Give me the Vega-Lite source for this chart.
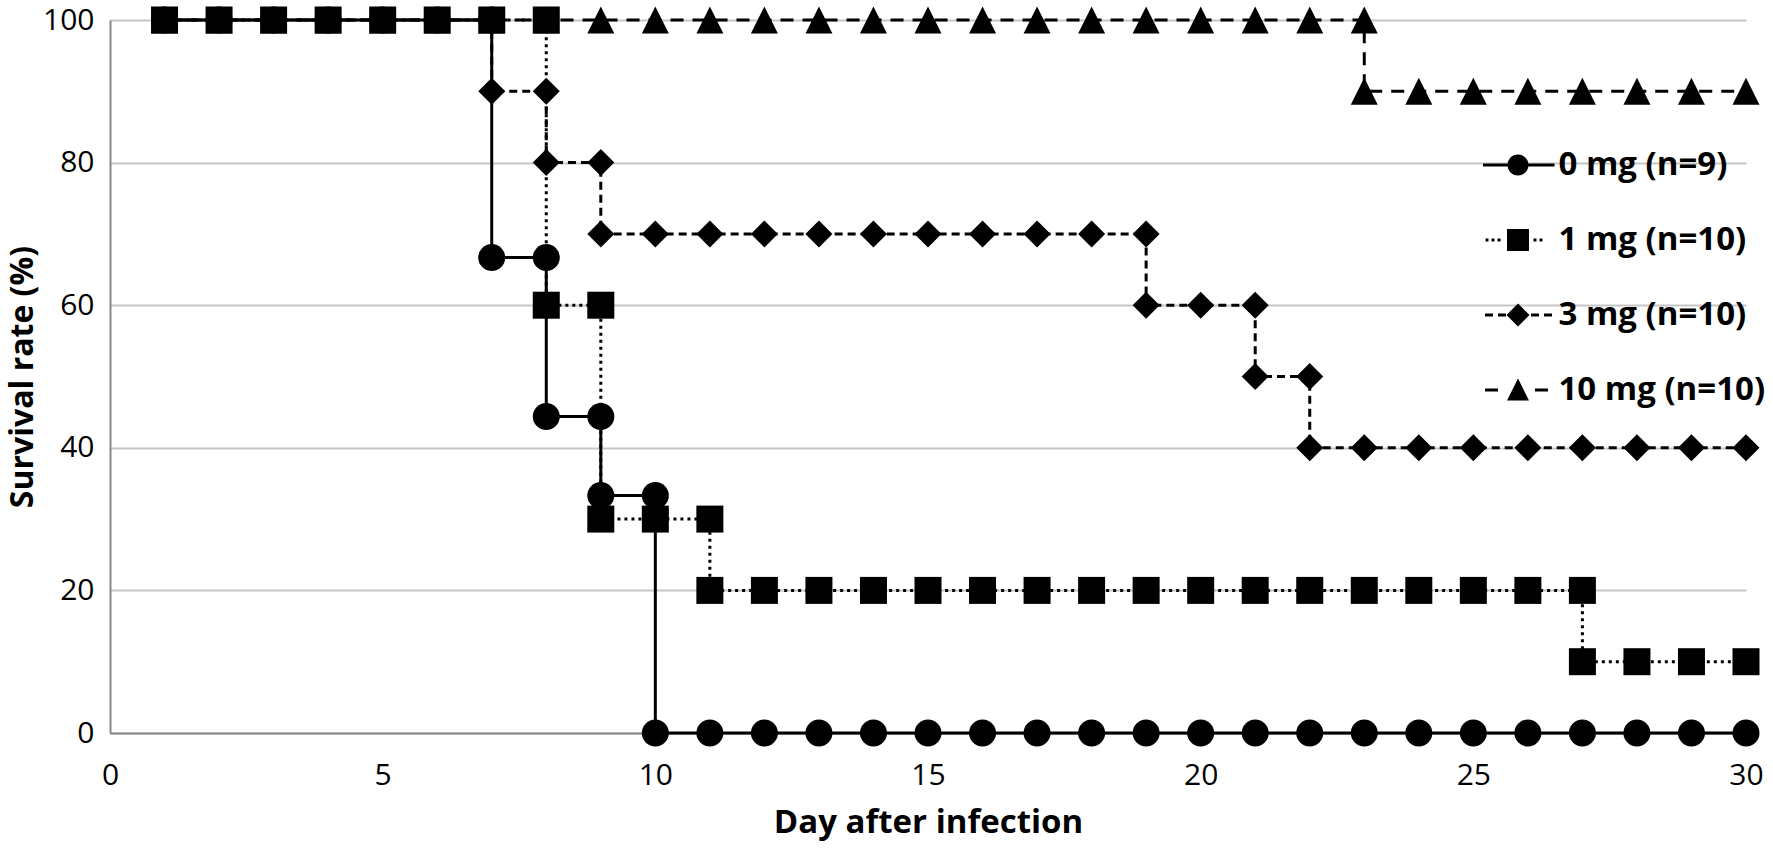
{
"$schema": "https://vega.github.io/schema/vega-lite/v6.json",
"width": 1636, "height": 713,
"autosize": {"type": "none"},
"padding": {"left": 110, "top": 20, "right": 27, "bottom": 120},
"background": "white",
"config": {"view": {"stroke": null}, "font": "Open Sans"},
"data": {"values": [
{"g":"10 mg (n=10)","d":1,"r":100,"o":1},{"g":"10 mg (n=10)","d":2,"r":100,"o":2},{"g":"10 mg (n=10)","d":3,"r":100,"o":3},{"g":"10 mg (n=10)","d":4,"r":100,"o":4},{"g":"10 mg (n=10)","d":5,"r":100,"o":5},{"g":"10 mg (n=10)","d":6,"r":100,"o":6},{"g":"10 mg (n=10)","d":7,"r":100,"o":7},{"g":"10 mg (n=10)","d":8,"r":100,"o":8},{"g":"10 mg (n=10)","d":9,"r":100,"o":9},{"g":"10 mg (n=10)","d":10,"r":100,"o":10},{"g":"10 mg (n=10)","d":11,"r":100,"o":11},{"g":"10 mg (n=10)","d":12,"r":100,"o":12},{"g":"10 mg (n=10)","d":13,"r":100,"o":13},{"g":"10 mg (n=10)","d":14,"r":100,"o":14},{"g":"10 mg (n=10)","d":15,"r":100,"o":15},{"g":"10 mg (n=10)","d":16,"r":100,"o":16},{"g":"10 mg (n=10)","d":17,"r":100,"o":17},{"g":"10 mg (n=10)","d":18,"r":100,"o":18},{"g":"10 mg (n=10)","d":19,"r":100,"o":19},{"g":"10 mg (n=10)","d":20,"r":100,"o":20},{"g":"10 mg (n=10)","d":21,"r":100,"o":21},{"g":"10 mg (n=10)","d":22,"r":100,"o":22},{"g":"10 mg (n=10)","d":23,"r":100,"o":23},{"g":"10 mg (n=10)","d":23,"r":90,"o":24},{"g":"10 mg (n=10)","d":24,"r":90,"o":25},{"g":"10 mg (n=10)","d":25,"r":90,"o":26},{"g":"10 mg (n=10)","d":26,"r":90,"o":27},{"g":"10 mg (n=10)","d":27,"r":90,"o":28},{"g":"10 mg (n=10)","d":28,"r":90,"o":29},{"g":"10 mg (n=10)","d":29,"r":90,"o":30},{"g":"10 mg (n=10)","d":30,"r":90,"o":31},
{"g":"0 mg (n=9)","d":1,"r":100,"o":1},{"g":"0 mg (n=9)","d":2,"r":100,"o":2},{"g":"0 mg (n=9)","d":3,"r":100,"o":3},{"g":"0 mg (n=9)","d":4,"r":100,"o":4},{"g":"0 mg (n=9)","d":5,"r":100,"o":5},{"g":"0 mg (n=9)","d":6,"r":100,"o":6},{"g":"0 mg (n=9)","d":7,"r":100,"o":7},{"g":"0 mg (n=9)","d":7,"r":66.7,"o":8},{"g":"0 mg (n=9)","d":8,"r":66.7,"o":9},{"g":"0 mg (n=9)","d":8,"r":44.4,"o":10},{"g":"0 mg (n=9)","d":9,"r":44.4,"o":11},{"g":"0 mg (n=9)","d":9,"r":33.3,"o":12},{"g":"0 mg (n=9)","d":10,"r":33.3,"o":13},{"g":"0 mg (n=9)","d":10,"r":0,"o":14},{"g":"0 mg (n=9)","d":11,"r":0,"o":15},{"g":"0 mg (n=9)","d":12,"r":0,"o":16},{"g":"0 mg (n=9)","d":13,"r":0,"o":17},{"g":"0 mg (n=9)","d":14,"r":0,"o":18},{"g":"0 mg (n=9)","d":15,"r":0,"o":19},{"g":"0 mg (n=9)","d":16,"r":0,"o":20},{"g":"0 mg (n=9)","d":17,"r":0,"o":21},{"g":"0 mg (n=9)","d":18,"r":0,"o":22},{"g":"0 mg (n=9)","d":19,"r":0,"o":23},{"g":"0 mg (n=9)","d":20,"r":0,"o":24},{"g":"0 mg (n=9)","d":21,"r":0,"o":25},{"g":"0 mg (n=9)","d":22,"r":0,"o":26},{"g":"0 mg (n=9)","d":23,"r":0,"o":27},{"g":"0 mg (n=9)","d":24,"r":0,"o":28},{"g":"0 mg (n=9)","d":25,"r":0,"o":29},{"g":"0 mg (n=9)","d":26,"r":0,"o":30},{"g":"0 mg (n=9)","d":27,"r":0,"o":31},{"g":"0 mg (n=9)","d":28,"r":0,"o":32},{"g":"0 mg (n=9)","d":29,"r":0,"o":33},{"g":"0 mg (n=9)","d":30,"r":0,"o":34},
{"g":"3 mg (n=10)","d":1,"r":100,"o":1},{"g":"3 mg (n=10)","d":2,"r":100,"o":2},{"g":"3 mg (n=10)","d":3,"r":100,"o":3},{"g":"3 mg (n=10)","d":4,"r":100,"o":4},{"g":"3 mg (n=10)","d":5,"r":100,"o":5},{"g":"3 mg (n=10)","d":6,"r":100,"o":6},{"g":"3 mg (n=10)","d":7,"r":100,"o":7},{"g":"3 mg (n=10)","d":7,"r":90,"o":8},{"g":"3 mg (n=10)","d":8,"r":90,"o":9},{"g":"3 mg (n=10)","d":8,"r":80,"o":10},{"g":"3 mg (n=10)","d":9,"r":80,"o":11},{"g":"3 mg (n=10)","d":9,"r":70,"o":12},{"g":"3 mg (n=10)","d":10,"r":70,"o":13},{"g":"3 mg (n=10)","d":11,"r":70,"o":14},{"g":"3 mg (n=10)","d":12,"r":70,"o":15},{"g":"3 mg (n=10)","d":13,"r":70,"o":16},{"g":"3 mg (n=10)","d":14,"r":70,"o":17},{"g":"3 mg (n=10)","d":15,"r":70,"o":18},{"g":"3 mg (n=10)","d":16,"r":70,"o":19},{"g":"3 mg (n=10)","d":17,"r":70,"o":20},{"g":"3 mg (n=10)","d":18,"r":70,"o":21},{"g":"3 mg (n=10)","d":19,"r":70,"o":22},{"g":"3 mg (n=10)","d":19,"r":60,"o":23},{"g":"3 mg (n=10)","d":20,"r":60,"o":24},{"g":"3 mg (n=10)","d":21,"r":60,"o":25},{"g":"3 mg (n=10)","d":21,"r":50,"o":26},{"g":"3 mg (n=10)","d":22,"r":50,"o":27},{"g":"3 mg (n=10)","d":22,"r":40,"o":28},{"g":"3 mg (n=10)","d":23,"r":40,"o":29},{"g":"3 mg (n=10)","d":24,"r":40,"o":30},{"g":"3 mg (n=10)","d":25,"r":40,"o":31},{"g":"3 mg (n=10)","d":26,"r":40,"o":32},{"g":"3 mg (n=10)","d":27,"r":40,"o":33},{"g":"3 mg (n=10)","d":28,"r":40,"o":34},{"g":"3 mg (n=10)","d":29,"r":40,"o":35},{"g":"3 mg (n=10)","d":30,"r":40,"o":36},
{"g":"1 mg (n=10)","d":1,"r":100,"o":1},{"g":"1 mg (n=10)","d":2,"r":100,"o":2},{"g":"1 mg (n=10)","d":3,"r":100,"o":3},{"g":"1 mg (n=10)","d":4,"r":100,"o":4},{"g":"1 mg (n=10)","d":5,"r":100,"o":5},{"g":"1 mg (n=10)","d":6,"r":100,"o":6},{"g":"1 mg (n=10)","d":7,"r":100,"o":7},{"g":"1 mg (n=10)","d":8,"r":100,"o":8},{"g":"1 mg (n=10)","d":8,"r":60,"o":9},{"g":"1 mg (n=10)","d":9,"r":60,"o":10},{"g":"1 mg (n=10)","d":9,"r":30,"o":11},{"g":"1 mg (n=10)","d":10,"r":30,"o":12},{"g":"1 mg (n=10)","d":11,"r":30,"o":13},{"g":"1 mg (n=10)","d":11,"r":20,"o":14},{"g":"1 mg (n=10)","d":12,"r":20,"o":15},{"g":"1 mg (n=10)","d":13,"r":20,"o":16},{"g":"1 mg (n=10)","d":14,"r":20,"o":17},{"g":"1 mg (n=10)","d":15,"r":20,"o":18},{"g":"1 mg (n=10)","d":16,"r":20,"o":19},{"g":"1 mg (n=10)","d":17,"r":20,"o":20},{"g":"1 mg (n=10)","d":18,"r":20,"o":21},{"g":"1 mg (n=10)","d":19,"r":20,"o":22},{"g":"1 mg (n=10)","d":20,"r":20,"o":23},{"g":"1 mg (n=10)","d":21,"r":20,"o":24},{"g":"1 mg (n=10)","d":22,"r":20,"o":25},{"g":"1 mg (n=10)","d":23,"r":20,"o":26},{"g":"1 mg (n=10)","d":24,"r":20,"o":27},{"g":"1 mg (n=10)","d":25,"r":20,"o":28},{"g":"1 mg (n=10)","d":26,"r":20,"o":29},{"g":"1 mg (n=10)","d":27,"r":20,"o":30},{"g":"1 mg (n=10)","d":27,"r":10,"o":31},{"g":"1 mg (n=10)","d":28,"r":10,"o":32},{"g":"1 mg (n=10)","d":29,"r":10,"o":33},{"g":"1 mg (n=10)","d":30,"r":10,"o":34}
]},
"encoding": {
  "x": {"field": "d", "type": "quantitative", "scale": {"domain": [0, 30], "nice": false},
        "axis": {"values": [0, 5, 10, 15, 20, 25, 30], "grid": false, "ticks": false, "tickSize": 0, "domainColor": "#878787", "domainWidth": 2, "labelFont": "Open Sans", "labelFontSize": 30, "labelColor": "black", "labelPadding": 27, "labelFlush": false, "title": "Day after infection", "titleFont": "Open Sans", "titleFontWeight": "bold", "titleFontSize": 33, "titleColor": "black", "titlePadding": 16, "zindex": 0}},
  "y": {"field": "r", "type": "quantitative", "scale": {"domain": [0, 100], "nice": false},
        "axis": {"values": [0, 20, 40, 60, 80, 100], "grid": true, "gridColor": "#c6c6c6", "gridWidth": 2, "ticks": false, "tickSize": 0, "domainColor": "#878787", "domainWidth": 2, "labelFont": "Open Sans", "labelFontSize": 30, "labelColor": "black", "labelPadding": 16, "labelFlush": false, "title": "Survival rate (%)", "titleFont": "Open Sans", "titleFontWeight": "bold", "titleFontSize": 32, "titleColor": "black", "titlePadding": 3, "zindex": 0}}
},
"layer": [
  {"mark": {"type": "line", "color": "black", "strokeWidth": 3},
   "encoding": {"order": {"field": "o", "type": "quantitative"},
     "strokeDash": {"field": "g", "type": "nominal", "scale": {"domain": ["0 mg (n=9)", "1 mg (n=10)", "3 mg (n=10)", "10 mg (n=10)"], "range": [[1, 0], [3, 4], [8, 5], [13, 9]]}, "legend": null}}},
  {"mark": {"type": "point", "filled": true, "color": "black", "opacity": 1, "size": 729, "strokeWidth": 0},
   "encoding": {"shape": {"field": "g", "type": "nominal", "scale": {"domain": ["0 mg (n=9)", "1 mg (n=10)", "3 mg (n=10)", "10 mg (n=10)"], "range": ["circle", "square", "diamond", "M0,-1L1,1L-1,1Z"]}, "legend": null}}},
  {"mark": {"type": "point", "filled": true, "color": "black", "opacity": 0, "size": 10},
   "encoding": {"shape": {"field": "g", "type": "nominal", "scale": {"domain": ["0 mg (n=9)", "1 mg (n=10)", "3 mg (n=10)", "10 mg (n=10)"], "range": [
     "M-0.959,-0.041L-0.274,-0.041L-0.274,0.041L-0.959,0.041ZM0.274,-0.041L1,-0.041L1,0.041L0.274,0.041ZM0.288,0C0.288,0.159,0.159,0.288,0,0.288C-0.159,0.288,-0.288,0.159,-0.288,0C-0.288,-0.159,-0.159,-0.288,0,-0.288C0.159,-0.288,0.288,-0.159,0.288,0Z",
     "M-0.890,-0.041L-0.808,-0.041L-0.808,0.041L-0.890,0.041ZM-0.726,-0.041L-0.644,-0.041L-0.644,0.041L-0.726,0.041ZM-0.562,-0.041L-0.480,-0.041L-0.480,0.041L-0.562,0.041ZM0.425,-0.041L0.507,-0.041L0.507,0.041L0.425,0.041ZM0.589,-0.041L0.671,-0.041L0.671,0.041L0.589,0.041ZM-0.301,-0.301L0.301,-0.301L0.301,0.301L-0.301,0.301Z",
     "M-0.904,-0.041L-0.685,-0.041L-0.685,0.041L-0.904,0.041ZM-0.548,-0.041L-0.329,-0.041L-0.329,0.041L-0.548,0.041ZM0.356,-0.041L0.575,-0.041L0.575,0.041L0.356,0.041ZM0.712,-0.041L0.932,-0.041L0.932,0.041L0.712,0.041ZM0,-0.315L0.315,0L0,0.315L-0.315,0Z",
     "M-0.904,-0.041L-0.548,-0.041L-0.548,0.041L-0.904,0.041ZM0.466,-0.041L0.822,-0.041L0.822,0.041L0.466,0.041ZM0,-0.315L0.301,0.288L-0.301,0.288Z"
   ]},
   "legend": {"title": null, "orient": "none", "legendX": 1371.5, "legendY": 108.5, "padding": 0, "symbolSize": 5329, "symbolOpacity": 1, "symbolFillColor": "black", "symbolStrokeColor": "black", "symbolStrokeWidth": 0, "rowPadding": 21, "labelOffset": 4, "labelLimit": 400, "labelFont": "Open Sans", "labelFontWeight": "bold", "labelFontSize": 33, "labelColor": "black"}}}}
],
"resolve": {"scale": {"shape": "independent"}, "legend": {"shape": "independent"}}
}
